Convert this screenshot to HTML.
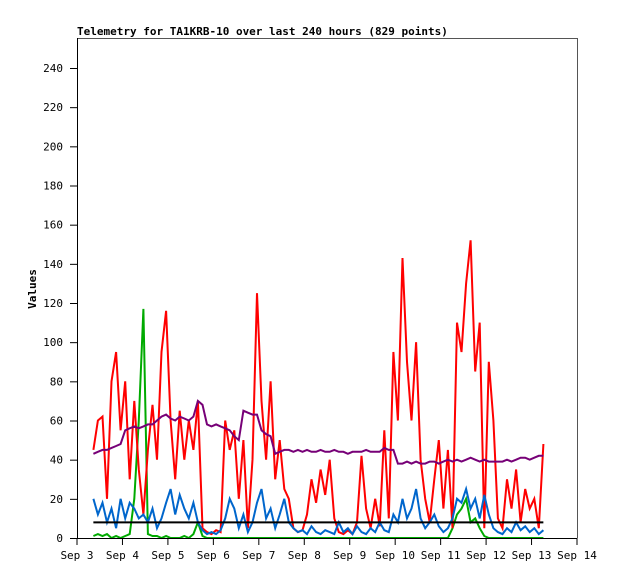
<!DOCTYPE html>
<html><head><meta charset="utf-8"><style>
body{margin:0;background:#fff;}
svg{display:block;font-family:"DejaVu Sans Mono","Liberation Mono",monospace;}
</style></head><body>
<svg id="chart" width="618" height="579" xmlns="http://www.w3.org/2000/svg">
<rect width="618" height="579" fill="#fff"/>
<text x="77" y="35" font-size="11" font-weight="bold">Telemetry for TA1KRB-10 over last 240 hours (829 points)</text>
<text transform="translate(36,289) rotate(-90)" font-size="11" font-weight="bold" text-anchor="middle">Values</text>
<g id="grid"></g>
<g id="series"></g>
<line x1="77" y1="38.5" x2="577" y2="38.5" stroke="#555"/>
<line x1="577.5" y1="38" x2="577.5" y2="538" stroke="#555"/>
<line x1="77.5" y1="38" x2="77.5" y2="538" stroke="#000"/>
<line x1="77" y1="538.5" x2="577" y2="538.5" stroke="#000"/>
<g id="axes"></g>
</svg>
<script>
const xTickLabels=["Sep 3","Sep 4","Sep 5","Sep 6","Sep 7","Sep 8","Sep 9","Sep 10","Sep 11","Sep 12","Sep 13","Sep 14"];
const yTicks=[0,20,40,60,80,100,120,140,160,180,200,220,240];
const startDay=3.36, stepDay=0.1;
const redValues=[45,60,62,20,80,95,55,80,30,70,35,12,45,68,40,95,116,60,30,65,40,60,45,70,5,3,2,4,3,60,45,55,20,50,5,40,125,70,40,80,30,50,25,20,5,3,4,12,30,18,35,22,40,10,3,2,4,2,8,42,15,5,20,6,55,10,95,60,143,90,60,100,40,20,8,30,50,15,45,5,110,95,130,152,85,110,5,90,60,10,5,30,15,35,8,25,15,20,5,48];
const purpleValues=[43,44,45,45,46,47,48,55,56,57,56,57,58,58,60,62,63,61,60,62,61,60,62,70,68,58,57,58,57,56,55,52,50,65,64,63,63,55,53,52,43,44,45,45,44,45,44,45,44,44,45,44,44,45,44,44,43,44,44,44,45,44,44,44,46,45,45,38,38,39,38,39,38,38,39,39,38,39,40,39,40,39,40,41,40,39,40,39,39,39,39,40,39,40,41,41,40,41,42,42];
const blueValues=[20,12,18,8,15,5,20,10,18,15,10,12,8,15,5,10,18,25,12,22,15,10,18,8,4,2,3,2,4,10,20,15,5,12,3,8,18,25,10,15,5,12,20,8,5,3,4,2,6,3,2,4,3,2,8,3,5,2,6,3,2,5,3,8,4,3,12,8,20,10,15,25,10,5,8,12,6,3,5,10,20,18,25,15,20,10,22,12,5,3,2,5,3,8,4,6,3,5,2,4];
const greenValues=[1,2,1,2,0,1,0,1,2,20,60,117,2,1,1,0,1,0,0,0,1,0,2,8,1,0,0,0,0,0,0,0,0,0,0,0,0,0,0,0,0,0,0,0,0,0,0,0,0,0,0,0,0,0,0,0,0,0,0,0,0,0,0,0,0,0,0,0,0,0,0,0,0,0,0,0,0,0,0,5,12,15,20,8,10,5,1,0,0,0,0,0,0,0,0,0,0,0,0,0];
const blackValue=[8];
const X0=77,PXDAY=45.4545,Y0=538,PXUNIT=470/240;
const xs=d=>X0+(d-3)*PXDAY, ys=v=>Y0-v*PXUNIT;
const NS="http://www.w3.org/2000/svg";
const axes=document.getElementById('axes'), ser=document.getElementById('series');
yTicks.forEach(v=>{
  const l=document.createElementNS(NS,'line');
  
  
  l.setAttribute('x1',70);l.setAttribute('x2',77);l.setAttribute('y1',ys(v)+0.5);l.setAttribute('y2',ys(v)+0.5);l.setAttribute('stroke','#000');
  axes.appendChild(l);
  const t=document.createElementNS(NS,'text');
  
  
  t.setAttribute('x',63);t.setAttribute('y',ys(v)+4);t.setAttribute('text-anchor','end');t.setAttribute('font-size','11');
  t.textContent=v;axes.appendChild(t);
});
xTickLabels.forEach((s,i)=>{
  const x=xs(3+i);
  const l=document.createElementNS(NS,'line');
  
  
  l.setAttribute('x1',x);l.setAttribute('x2',x);l.setAttribute('y1',538);l.setAttribute('y2',545);l.setAttribute('stroke','#000');
  axes.appendChild(l);
  const t=document.createElementNS(NS,'text');
  
  
  t.setAttribute('x',x);t.setAttribute('y',559);t.setAttribute('text-anchor','middle');t.setAttribute('font-size','11');
  t.textContent=s;axes.appendChild(t);
});
function line(vals,color,name){
  const p=document.createElementNS(NS,'polyline');
  
  
  p.setAttribute('points',vals.map((v,i)=>xs(startDay+i*stepDay).toFixed(1)+','+ys(v).toFixed(1)).join(' '));
  p.setAttribute('fill','none');p.setAttribute('stroke',color);p.setAttribute('stroke-width','2');
  ser.appendChild(p);
}
line(greenValues,'#00aa00','series-green');
line(redValues,'#ff0000','series-red');
line(blueValues,'#0066cc','series-blue');
line(purpleValues,'#770077','series-purple');
const bl=document.createElementNS(NS,'line');


bl.setAttribute('x1',xs(startDay));bl.setAttribute('x2',xs(startDay+(redValues.length-1)*stepDay));
bl.setAttribute('y1',ys(blackValue[0]));bl.setAttribute('y2',ys(blackValue[0]));
bl.setAttribute('stroke','#000');bl.setAttribute('stroke-width','2');
ser.appendChild(bl);
</script>
</body></html>
